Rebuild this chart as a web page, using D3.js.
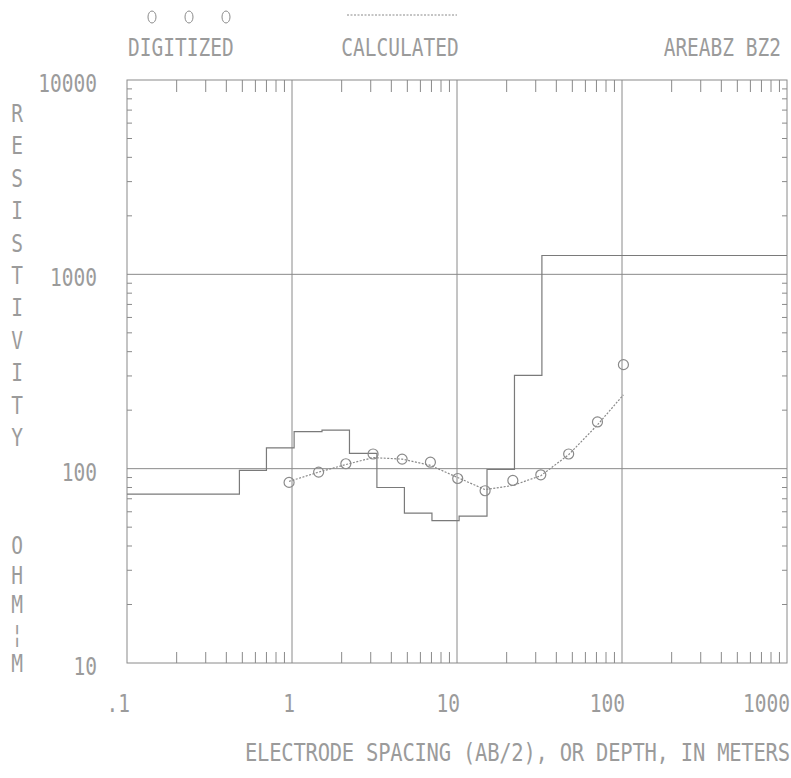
<!DOCTYPE html>
<html>
<head>
<meta charset="utf-8">
<script src="https://cdn.jsdelivr.net/npm/d3@7"></script>
<style>
  body { margin: 0; background: #fff; }
  text { font-family: "DejaVu Sans Mono", "Liberation Mono", monospace; fill: #9b9b9b; }
</style>
</head>
<body>
<svg id="chart"></svg>
<script>
// tick labels
const xTickValues = [0.1, 1, 10, 100, 1000];
const xTickLabels = [".1", "1", "10", "100", "1000"];
const yTickValues = [10, 100, 1000, 10000];
const yTickLabels = ["10", "100", "1000", "10000"];

// electrode spacing AB/2 (m) of the field readings
const spacing = [0.96, 1.45, 2.12, 3.1, 4.65, 6.9, 10.1, 14.8, 21.8, 32.2, 47.5, 71, 102];
// apparent resistivity, digitized (circles)
const digitized = [85, 96, 106, 119, 112, 108, 89, 77, 87, 93, 119, 174, 343];
// apparent resistivity, calculated from the model (dotted)
const calculated = [86, 96, 105, 114, 112, 104, 90, 78, 82, 92, 118, 168, 240];

// layered model: layer bottoms (m) and layer resistivities (ohm-m)
const layerDepth = [0.48, 0.70, 1.03, 1.52, 2.23, 3.27, 4.80, 7.05, 10.3, 15.2, 22.3, 32.7];
const layerRho = [74, 98, 128, 155, 158, 120, 80, 59, 54, 57, 99, 302, 1250];

const width = 791, height = 778;
const ink = "#8a8a8a";
const stretch = 1.25; // plotter glyphs are tall and narrow

const svg = d3.select("#chart")
    .attr("width", width)
    .attr("height", height);

const x = d3.scaleLog().domain([0.1, 1000]).range([127, 787]);
const y = d3.scaleLog().domain([10, 10000]).range([663, 80]);

const [x0, x1] = x.range();
const [y0, y1] = y.range();

// draws tall text with baseline at (px, py)
function label(sel, px, py, size, anchor) {
  return sel
      .attr("transform", (d, i) => `translate(${typeof px === "function" ? px(d, i) : px},${typeof py === "function" ? py(d, i) : py}) scale(1,${stretch})`)
      .attr("font-size", size)
      .attr("text-anchor", anchor);
}

// minor ticks (2..9 of every decade)
const xMinor = x.ticks().filter(v => !xTickValues.some(t => Math.abs(t - v) / t < 1e-6));
const yMinor = y.ticks().filter(v => !yTickValues.some(t => Math.abs(t - v) / t < 1e-6));

const frame = svg.append("g")
    .attr("stroke", ink)
    .attr("stroke-width", 1)
    .attr("fill", "none");

frame.append("rect")
    .attr("x", x0).attr("y", y1)
    .attr("width", x1 - x0).attr("height", y0 - y1);

// decade grid lines inside the box
frame.append("g").selectAll("line")
  .data(xTickValues.slice(1, -1))
  .join("line")
    .attr("x1", d => x(d)).attr("x2", d => x(d))
    .attr("y1", y1).attr("y2", y0);

frame.append("g").selectAll("line")
  .data(yTickValues.slice(1, -1))
  .join("line")
    .attr("x1", x0).attr("x2", x1)
    .attr("y1", d => y(d)).attr("y2", d => y(d));

// top and bottom minor ticks
frame.append("g").selectAll("line")
  .data(xMinor)
  .join("line")
    .attr("x1", d => x(d)).attr("x2", d => x(d))
    .attr("y1", y1).attr("y2", y1 + 12);

frame.append("g").selectAll("line")
  .data(xMinor)
  .join("line")
    .attr("x1", d => x(d)).attr("x2", d => x(d))
    .attr("y1", y0).attr("y2", y0 - 11);

// left and right minor ticks
frame.append("g").selectAll("line")
  .data(yMinor)
  .join("line")
    .attr("x1", x0).attr("x2", x0 + 5)
    .attr("y1", d => y(d)).attr("y2", d => y(d));

frame.append("g").selectAll("line")
  .data(yMinor)
  .join("line")
    .attr("x1", x1).attr("x2", x1 - 5)
    .attr("y1", d => y(d)).attr("y2", d => y(d));

// tick labels
svg.append("g").selectAll("text")
  .data(xTickValues)
  .join("text")
    .call(label, d => x(d) + 3, y0 + 49, 19.5, "end")
    .text((d, i) => xTickLabels[i]);

svg.append("g").selectAll("text")
  .data(yTickValues)
  .join("text")
    .call(label, 97, d => y(d) + 12, 19.5, "end")
    .text((d, i) => yTickLabels[i]);

// axis titles
svg.append("text")
    .call(label, 790, 761, 20.5, "end")
    .attr("textLength", 545)
    .text("ELECTRODE SPACING (AB/2), OR DEPTH, IN METERS");

const yTitle = "RESISTIVITY".split("");
const yUnit = ["O", "H", "M", "¦", "M"];
svg.append("g").selectAll("text")
  .data(yTitle)
  .join("text")
    .call(label, 17, (d, i) => 122 + i * 32.4, 19.5, "middle")
    .text(d => d);

svg.append("g").selectAll("text")
  .data(yUnit)
  .join("text")
    .call(label, 17, (d, i) => 554 + i * 29.5, 19.5, "middle")
    .text(d => d);

// legend / header
const legend = svg.append("g");
legend.selectAll("ellipse")
  .data([152, 189, 226])
  .join("ellipse")
    .attr("cx", d => d).attr("cy", 17)
    .attr("rx", 4).attr("ry", 6)
    .attr("fill", "none")
    .attr("stroke", ink);
legend.append("line")
    .attr("x1", 347).attr("x2", 457)
    .attr("y1", 15).attr("y2", 15)
    .attr("stroke", ink)
    .attr("stroke-dasharray", "2,1.5");
legend.append("text")
    .call(label, 128, 56, 19.5, "start")
    .text("DIGITIZED");
legend.append("text")
    .call(label, 400, 56, 19.5, "middle")
    .text("CALCULATED");
legend.append("text")
    .call(label, 781, 56, 19.5, "end")
    .text("AREABZ BZ2");

// layered model as a step line
const steps = [[x.domain()[0], layerRho[0]]]
  .concat(layerDepth.map((d, i) => [d, layerRho[i + 1]]))
  .concat([[x.domain()[1], layerRho[layerRho.length - 1]]]);

svg.append("path")
    .datum(steps)
    .attr("fill", "none")
    .attr("stroke", "#7a7a7a")
    .attr("stroke-width", 1.2)
    .attr("d", d3.line()
      .x(d => x(d[0]))
      .y(d => y(d[1]))
      .curve(d3.curveStepAfter));

// calculated curve, dotted
svg.append("path")
    .datum(spacing.map((d, i) => [d, calculated[i]]))
    .attr("fill", "none")
    .attr("stroke", ink)
    .attr("stroke-width", 1.2)
    .attr("stroke-dasharray", "2,1.5")
    .attr("d", d3.line()
      .x(d => x(d[0]))
      .y(d => y(d[1])));

// digitized readings
svg.append("g").selectAll("circle")
  .data(spacing)
  .join("circle")
    .attr("cx", d => x(d))
    .attr("cy", (d, i) => y(digitized[i]))
    .attr("r", 5)
    .attr("fill", "none")
    .attr("stroke", ink)
    .attr("stroke-width", 1.2);
</script>
</body>
</html>
